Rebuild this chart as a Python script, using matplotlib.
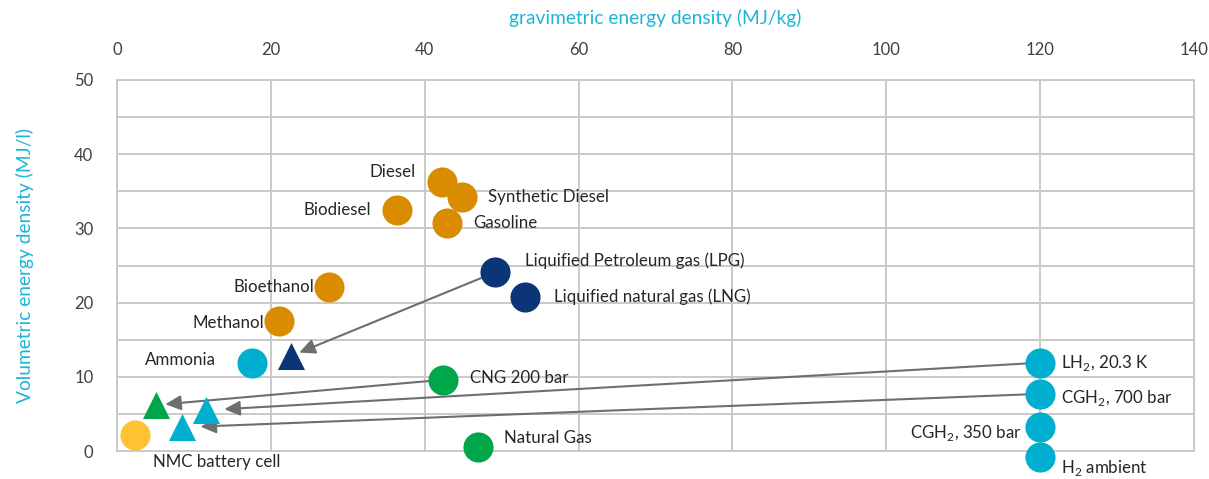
import matplotlib
matplotlib.use("Agg")
import matplotlib.pyplot as plt
from matplotlib.ticker import MultipleLocator

plt.rcParams['font.family'] = ['Lato', 'DejaVu Sans']
plt.rcParams['mathtext.fontset'] = 'custom'
plt.rcParams['mathtext.rm'] = 'Lato'

# fuels: gravimetric (MJ/kg), volumetric (MJ/l)
orange_names = ['Diesel', 'Synthetic Diesel', 'Biodiesel', 'Gasoline', 'Bioethanol', 'Methanol']
orange_x = [42.2, 44.8, 36.4, 42.9, 27.6, 21.1]
orange_y = [36.3, 34.2, 32.5, 30.7, 22.1, 17.5]

navy_names = ['Liquified Petroleum gas (LPG)', 'Liquified natural gas (LNG)']
navy_x = [49.2, 53.0]
navy_y = [24.1, 20.8]

green_names = ['CNG 200 bar', 'Natural Gas']
green_x = [42.4, 46.9]
green_y = [9.6, 0.5]

cyan_names = ['Ammonia', r'LH$_\mathregular{2}$, 20.3 K', r'CGH$_\mathregular{2}$, 700 bar',
              r'CGH$_\mathregular{2}$, 350 bar', r'H$_\mathregular{2}$ ambient']
cyan_x = [17.5, 120, 120, 120, 120]
cyan_y = [11.9, 11.9, 7.7, 3.2, -0.8]

battery_names = ['NMC battery cell']
battery_x = [2.3]
battery_y = [2.2]

# system level (tank included) points, drawn as triangles
sys_navy = (22.6, 12.8)
sys_green = (5.1, 6.2)
sys_cyan_x = [11.6, 8.5]
sys_cyan_y = [5.5, 3.2]

# arrows: (from x, from y) -> (to x, to y)
arrows = [
    ((navy_x[0], navy_y[0]), sys_navy),
    ((green_x[0], green_y[0]), sys_green),
    ((cyan_x[1], cyan_y[1]), (sys_cyan_x[0], sys_cyan_y[0])),
    ((cyan_x[2], cyan_y[2]), (sys_cyan_x[1], sys_cyan_y[1])),
]
arrow_shrink_end = [6.5, 6.5, 13, 13]

ORANGE = '#D98C00'
NAVY = '#0B3577'
GREEN = '#00A64A'
CYAN = '#00AECF'
YELLOW = '#FFC233'
GRAY = '#6D6E71'
TITLE = '#1EB4D8'

fig = plt.figure(figsize=(12.09, 4.79), dpi=100)
ax = fig.add_axes([117 / 1209, 1 - 451 / 479, 1077 / 1209, 371 / 479])

ax.set_xlim(0, 140)
ax.set_ylim(0, 50)
ax.xaxis.set_major_locator(MultipleLocator(20))
ax.yaxis.set_major_locator(MultipleLocator(10))
ax.yaxis.set_minor_locator(MultipleLocator(5))
ax.grid(True, which='both', color='#C9C9C9', lw=1.4)
ax.set_axisbelow(True)
ax.xaxis.tick_top()
ax.tick_params(which='both', length=0, labelsize=12, labelcolor='#404040')
ax.tick_params(axis='x', pad=16)
ax.tick_params(axis='y', pad=17)
for s in ax.spines.values():
    s.set_color('#C9C9C9')
    s.set_linewidth(1.4)

ax.xaxis.set_label_position('top')
ax.set_xlabel('gravimetric energy density (MJ/kg)', color=TITLE, fontsize=13.8, labelpad=13)
ax.set_ylabel('Volumetric energy density (MJ/l)', color=TITLE, fontsize=13.8, labelpad=29)

for (x0, y0), (x1, y1), sb in zip([a[0] for a in arrows], [a[1] for a in arrows], arrow_shrink_end):
    ax.annotate('', xy=(x1, y1), xytext=(x0, y0),
                arrowprops=dict(arrowstyle='-|>,head_length=0.95,head_width=0.45',
                                color=GRAY, lw=1.5, shrinkA=10, shrinkB=sb,
                                mutation_scale=10),
                zorder=2)

ms = 470
ax.scatter(orange_x, orange_y, s=ms, color=ORANGE, zorder=3, clip_on=False, lw=0)
ax.scatter(navy_x, navy_y, s=ms, color=NAVY, zorder=3, clip_on=False, lw=0)
ax.scatter(green_x, green_y, s=ms, color=GREEN, zorder=3, clip_on=False, lw=0)
ax.scatter(cyan_x, cyan_y, s=ms, color=CYAN, zorder=3, clip_on=False, lw=0)
ax.scatter(battery_x, battery_y, s=ms, color=YELLOW, zorder=3, clip_on=False, lw=0)

tri = 380
ax.scatter([sys_navy[0]], [sys_navy[1]], s=tri, marker='^', color=NAVY, zorder=3, lw=0)
ax.scatter([sys_green[0]], [sys_green[1]], s=tri, marker='^', color=GREEN, zorder=3, lw=0)
ax.scatter(sys_cyan_x, sys_cyan_y, s=tri, marker='^', color=CYAN, zorder=3, lw=0)

# label placement (offset in points, horizontal alignment)
orange_off = [((-19, 7), 'right'), ((19, 0), 'left'), ((-19, 0), 'right'),
              ((19, 0), 'left'), ((-11, 0), 'right'), ((-11, -1), 'right')]
navy_off = [((21, 8), 'left'), ((21, 0), 'left')]
green_off = [((19, 1), 'left'), ((19, 7), 'left')]
cyan_off = [((-26, 2), 'right'), ((15, 0), 'left'), ((15, -3), 'left'),
            ((-13, -4), 'right'), ((15, -8), 'left')]
battery_off = [((13, -20), 'left')]

groups = [(orange_names, orange_x, orange_y, orange_off),
          (navy_names, navy_x, navy_y, navy_off),
          (green_names, green_x, green_y, green_off),
          (cyan_names, cyan_x, cyan_y, cyan_off),
          (battery_names, battery_x, battery_y, battery_off)]
for names, xs, ys, offs in groups:
    for n, x, y, (off, ha) in zip(names, xs, ys, offs):
        ax.annotate(n, (x, y), xytext=off, textcoords='offset points',
                    ha=ha, va='center', fontsize=12.2, color='#262626',
                    annotation_clip=False, zorder=4)

fig.savefig('out.png', dpi=100)
